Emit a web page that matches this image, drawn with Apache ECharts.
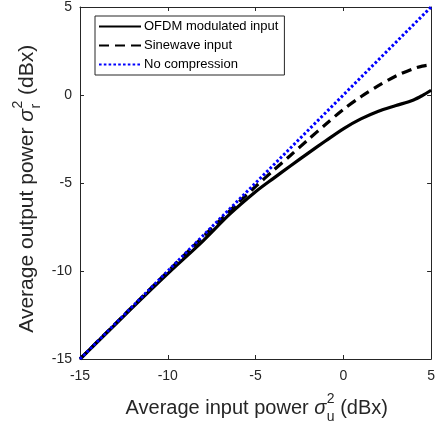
<!DOCTYPE html>
<html>
<head>
<meta charset="utf-8">
<script src="https://cdn.jsdelivr.net/npm/echarts@6/dist/echarts.min.js"></script>
<style>
  html, body { margin: 0; padding: 0; background: #fff; }
  #chart { width: 438px; height: 426px; }
</style>
</head>
<body>
<div id="chart"></div>
<script>
// input power (dBx) and measured output power (dBx)
const ofdmInput = [-15, -12, -10, -8, -6.5, -5, -4, -3, -2, -1, 0, 1, 2, 3, 4, 4.5, 5];
const ofdmOutput = [-15, -12.07, -10.15, -8.3, -6.8, -5.5, -4.75, -4.02, -3.3, -2.6, -1.92, -1.36, -0.92, -0.6, -0.28, -0.03, 0.27];
const sineInput = [-15, -12, -10, -8, -6, -5, -4, -3, -2, -1, 0, 1, 2, 3, 4, 4.5, 5];
const sineOutput = [-15, -12.01, -10.03, -8.06, -6.13, -5.2, -4.3, -3.42, -2.53, -1.66, -0.82, -0.1, 0.53, 1.08, 1.5, 1.64, 1.72];
const refInput = [-15, 5];
const refOutput = [-15, 5];
const seriesNames = ['OFDM modulated input', 'Sinewave input', 'No compression'];
const axisTicks = [-15, -10, -5, 0, 5];

const FONT = '"Liberation Sans", Arial, Helvetica, sans-serif';
const AXIS_COLOR = '#262626';

const zip = (xs, ys) => xs.map((x, i) => [x, ys[i]]);

// measure text to lay out the sigma with stacked super/subscript
const cvs = document.createElement('canvas').getContext('2d');
function textWidth(t, size, italic) {
  cvs.font = (italic ? 'italic ' : '') + size + 'px ' + FONT;
  return cvs.measureText(t).width;
}

// axis title built from pieces: main text, σ, sup, sub, tail
function axisTitle(main, sub, size) {
  const small = Math.round(size * 0.68);
  const w1 = textWidth(main, size);
  const ws = textWidth('σ', size, true);
  const wsup = Math.max(textWidth('2', small), textWidth(sub, small));
  const w3 = textWidth(' (dBx)', size);
  const total = w1 + ws + wsup + w3;
  let x = -total / 2;
  const base = { fill: AXIS_COLOR, fontFamily: FONT, verticalAlign: 'middle', align: 'left' };
  const items = [];
  items.push({ type: 'text', x: x, y: 0, style: Object.assign({}, base, { text: main, fontSize: size }) });
  x += w1;
  items.push({ type: 'text', x: x, y: 0, style: Object.assign({}, base, { text: 'σ', fontSize: size, fontStyle: 'italic' }) });
  x += ws + 0.5;
  items.push({ type: 'text', x: x, y: -9, style: Object.assign({}, base, { text: '2', fontSize: small }) });
  items.push({ type: 'text', x: x, y: 9, style: Object.assign({}, base, { text: sub, fontSize: small }) });
  x += wsup;
  items.push({ type: 'text', x: x, y: 0, style: Object.assign({}, base, { text: ' (dBx)', fontSize: size }) });
  return items;
}

const myChart = echarts.init(document.getElementById('chart'), null, { renderer: 'canvas' });

const gridBox = { left: 80, right: 5, top: 6, bottom: 67 };

function valueAxis(pos, showLabel, margin) {
  return {
    type: 'value',
    position: pos,
    min: -15,
    max: 5,
    interval: 5,
    axisLine: { show: true, onZero: false, lineStyle: { color: AXIS_COLOR, width: 1 } },
    axisTick: { show: true, inside: true, length: 4, lineStyle: { color: AXIS_COLOR } },
    axisLabel: {
      show: showLabel,
      color: AXIS_COLOR,
      fontSize: 14,
      fontFamily: FONT,
      margin: margin,
      formatter: v => axisTicks.includes(v) ? String(v) : ''
    },
    splitLine: { show: false }
  };
}

const option = {
  animation: false,
  backgroundColor: '#fff',
  grid: gridBox,
  xAxis: [valueAxis('bottom', true, 10), valueAxis('top', false, 8)],
  yAxis: [valueAxis('left', true, 8), valueAxis('right', false, 8)],
  legend: {
    orient: 'vertical',
    left: 95,
    top: 16,
    data: seriesNames,
    itemWidth: 42,
    itemHeight: 14,
    itemGap: 6,
    padding: [4, 6, 4, 3],
    borderColor: AXIS_COLOR,
    borderWidth: 1,
    borderRadius: 0,
    backgroundColor: '#fff',
    itemStyle: { opacity: 0 },
    textStyle: { color: '#000', fontSize: 13, fontFamily: FONT, padding: [0, 0, 0, -2] }
  },
  series: [
    {
      name: seriesNames[0],
      type: 'line',
      data: zip(ofdmInput, ofdmOutput),
      symbol: 'none',
      smooth: 0.3,
      lineStyle: { color: '#000', width: 3.2, type: 'solid' },
      itemStyle: { color: '#000' },
      z: 2
    },
    {
      name: seriesNames[1],
      type: 'line',
      data: zip(sineInput, sineOutput),
      symbol: 'none',
      smooth: 0.3,
      lineStyle: { color: '#000', width: 3.2, type: [10, 6] },
      itemStyle: { color: '#000' },
      z: 3
    },
    {
      name: seriesNames[2],
      type: 'line',
      data: zip(refInput, refOutput),
      symbol: 'none',
      lineStyle: { color: '#0000ff', width: 3, type: [2.6, 2.2] },
      itemStyle: { color: '#0000ff' },
      z: 4
    }
  ],
  graphic: [
    {
      type: 'group',
      x: 256.5,
      y: 408,
      children: axisTitle('Average input power ', 'u', 20)
    },
    {
      type: 'group',
      x: 27,
      y: 189,
      rotation: Math.PI / 2,
      children: axisTitle('Average output power ', 'r', 21)
    }
  ]
};

myChart.setOption(option);
</script>
</body>
</html>
